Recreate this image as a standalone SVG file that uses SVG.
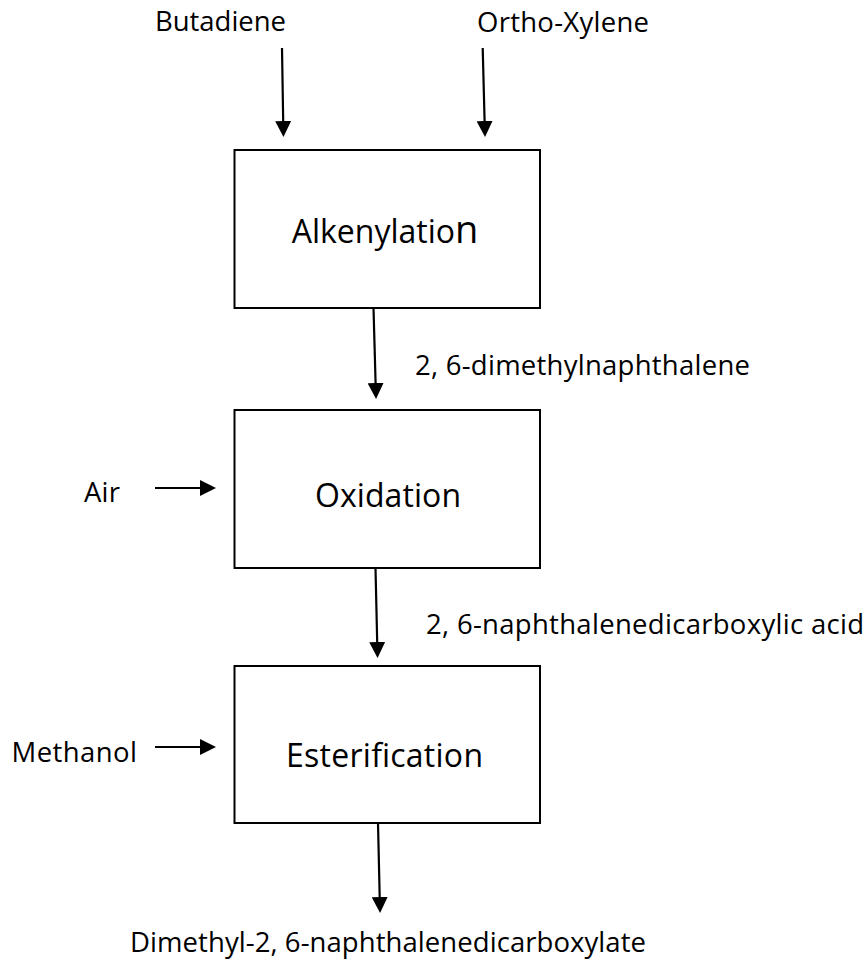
<svg xmlns="http://www.w3.org/2000/svg" width="868" height="964" viewBox="0 0 868 964">
<style>
.box{fill:#ffffff;stroke:#000000;stroke-width:2}
.lbl{font-family:"Open Sans","Noto Sans","Liberation Sans",sans-serif;font-size:27.5px;fill:#000000}
.big{font-family:"Open Sans","Noto Sans","Liberation Sans",sans-serif;font-size:32px;fill:#000000}
.arr{stroke:#000000;stroke-width:2.2;fill:none;marker-end:url(#ah)}
</style>
<defs>
<marker id="ah" markerUnits="userSpaceOnUse" markerWidth="16" markerHeight="16" refX="0" refY="8" orient="auto" viewBox="0 0 16 16">
<path d="M0,0 L16,8 L0,16 Z" fill="#000000"/>
</marker>
</defs>
<rect width="868" height="964" fill="#ffffff"/>
<g id="connectors">
<line class="arr" x1="282" y1="48" x2="283.2" y2="121"/>
<line class="arr" x1="482.7" y1="48" x2="484.6" y2="121"/>
<line class="arr" x1="373.5" y1="308" x2="375.6" y2="383"/>
<line class="arr" x1="155" y1="488" x2="200" y2="488"/>
<line class="arr" x1="375.5" y1="568" x2="377.2" y2="642"/>
<line class="arr" x1="155" y1="747" x2="200" y2="747"/>
<line class="arr" x1="378" y1="823" x2="379.7" y2="897"/>
</g>
<g id="butadiene"><text class="lbl" x="155" y="31" textLength="131">Butadiene</text></g>
<g id="ortho-xylene"><text class="lbl" x="477" y="31.5" textLength="172">Ortho-Xylene</text></g>
<g id="alkenylation">
<rect class="box" x="234.5" y="150" width="305.5" height="158"/>
<text class="big" x="291.7" y="243" font-size="31.5">Alkenylatio<tspan font-size="38">n</tspan></text>
</g>
<g id="dimethylnaphthalene"><text class="lbl" x="415" y="375" textLength="335">2, 6-dimethylnaphthalene</text></g>
<g id="air"><text class="lbl" x="84" y="502" textLength="36">Air</text></g>
<g id="oxidation">
<rect class="box" x="234.5" y="410" width="305.5" height="158"/>
<text class="big" x="315" y="507" textLength="146">Oxidation</text>
</g>
<g id="ndca"><text class="lbl" x="426" y="634" textLength="438">2, 6-naphthalenedicarboxylic acid</text></g>
<g id="methanol"><text class="lbl" x="11.5" y="762" textLength="125.5">Methanol</text></g>
<g id="esterification">
<rect class="box" x="234.5" y="666" width="305.5" height="157"/>
<text class="big" x="286" y="767" textLength="197">Esterification</text>
</g>
<g id="product"><text class="lbl" x="130" y="952" textLength="516">Dimethyl-2, 6-naphthalenedicarboxylate</text></g>
</svg>
